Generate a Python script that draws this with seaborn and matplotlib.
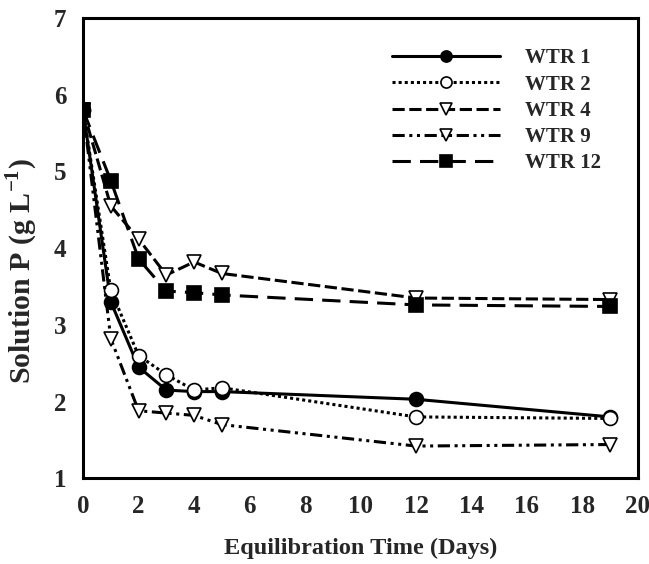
import matplotlib
matplotlib.use('Agg')
import matplotlib.pyplot as plt
import seaborn as sns
import pandas as pd

# Values.
days = [0, 1, 2, 3, 4, 5, 12, 19]
wtr1 = [5.8, 3.3, 2.45, 2.15, 2.13, 2.13, 2.03, 1.8]
wtr2 = [5.8, 3.45, 2.6, 2.35, 2.15, 2.18, 1.8, 1.78]
wtr4 = [5.8, 4.55, 4.12, 3.65, 3.82, 3.67, 3.35, 3.33]
wtr9 = [5.8, 2.82, 1.88, 1.85, 1.82, 1.7, 1.42, 1.44]
wtr12 = [5.8, 4.88, 3.86, 3.44, 3.42, 3.39, 3.26, 3.24]
names = ['WTR 1', 'WTR 2', 'WTR 4', 'WTR 9', 'WTR 12']

sns.set_style('white')
plt.rcParams['font.family'] = ['Liberation Serif', 'DejaVu Serif']
plt.rcParams['font.weight'] = 'bold'
plt.rcParams['axes.labelweight'] = 'bold'
plt.rcParams['mathtext.fontset'] = 'custom'
plt.rcParams['mathtext.rm'] = 'Liberation Serif:bold'
plt.rcParams['mathtext.bf'] = 'Liberation Serif:bold'

df = pd.DataFrame({'Day': days * 5,
                   'P': wtr1 + wtr2 + wtr4 + wtr9 + wtr12,
                   'Sample': [n for n in names for _ in days]})

# Line and marker look of each series.
styles = {
    'WTR 1': dict(linestyle='-', marker='o', markerfacecolor='black'),
    'WTR 2': dict(linestyle=(0, (1, 1)), marker='o', markerfacecolor='white'),
    'WTR 4': dict(linestyle=(0, (4, 1.5)), marker='v', markerfacecolor='white'),
    'WTR 9': dict(linestyle=(0, (4, 1.5, 1, 1.5, 1, 1.5)), marker='v', markerfacecolor='white'),
    'WTR 12': dict(linestyle=(0, (6, 3)), marker='s', markerfacecolor='black'),
}

fig = plt.figure(figsize=(6.49, 5.64), dpi=100)
ax = fig.add_axes([0.128, 0.152, 0.855, 0.816])

for name in names:
    sub = df[df['Sample'] == name]
    sns.lineplot(x=sub['Day'], y=sub['P'], ax=ax, color='black', linewidth=2.2,
                 markersize=10, markeredgecolor='black', markeredgewidth=1.2,
                 label=name, **styles[name])

ax.set_xlim(0, 20)
ax.set_ylim(1, 7)
ax.set_xticks(range(0, 21, 2))
ax.set_yticks(range(1, 8))
ax.tick_params(direction='out', length=4, width=1.2, labelsize=18, pad=8)
for lab in ax.get_xticklabels() + ax.get_yticklabels():
    lab.set_fontweight('bold')
for side in ['left', 'bottom', 'top', 'right']:
    ax.spines[side].set_linewidth(2.2)
    ax.spines[side].set_color('black')

ax.set_xlabel('Equilibration Time (Days)', fontsize=17.5, labelpad=14)
ax.set_ylabel('Solution P (g L$^{\\mathregular{-1}}$)', fontsize=21.5)
ax.yaxis.set_label_coords(-0.078, 0.45)

leg = ax.legend(loc='upper right', bbox_to_anchor=(0.968, 0.975), frameon=False,
                handlelength=5.2, handletextpad=1.2, labelspacing=0.3,
                prop={'weight': 'bold', 'size': 15})
for h in leg.legend_handles:
    h.set_markersize(8)

fig.savefig('out.png', dpi=100)
